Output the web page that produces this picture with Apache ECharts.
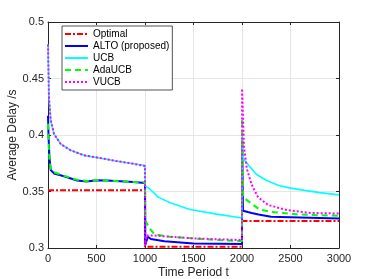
<!DOCTYPE html>
<html>
<head>
<meta charset="utf-8">
<script src="https://cdn.jsdelivr.net/npm/echarts@6/dist/echarts.min.js"></script>
<style>
html,body{margin:0;padding:0;background:#fff;}
#c{width:374px;height:279px;}
</style>
</head>
<body>
<div id="c"></div>
<script>
// ---- data (time t, average delay in s) ----
const seriesNames = ['Optimal', 'ALTO (proposed)', 'UCB', 'AdaUCB', 'VUCB'];
const xTicks = [0, 500, 1000, 1500, 2000, 2500, 3000];
const yTicks = [0.3, 0.35, 0.4, 0.45, 0.5];

const optimal = [[0,0.351],[1000,0.351],[1000,0.301],[2000,0.301],[2000,0.324],[3000,0.324]];

const alto = [[0,0.417],[5,0.400],[15,0.380],[28,0.369],[62,0.366],[165,0.3635],[300,0.3597],[400,0.3588],[500,0.3600],[600,0.3598],[700,0.3594],[880,0.3585],[1000,0.3576],
  [1003,0.303],[1030,0.310],[1060,0.308],[1200,0.306],[1500,0.304],[2000,0.3035],
  [2002,0.395],[2010,0.333],[2030,0.332],[2060,0.3318],[2100,0.331],[2170,0.3297],[2300,0.3276],[2600,0.327],[3000,0.3262]];

const ucb = [[0,0.480],[10,0.433],[28,0.413],[62,0.401],[131,0.392],[234,0.3864],[371,0.382],[577,0.379],[700,0.377],[850,0.375],[1000,0.373],
  [1002,0.355],[1052,0.352],[1137,0.345],[1258,0.340],[1464,0.334],[1739,0.330],[2000,0.3265],
  [2002,0.400],[2010,0.380],[2028,0.3776],[2080,0.372],[2150,0.365],[2250,0.360],[2371,0.3556],[2500,0.353],[2646,0.351],[2800,0.349],[3000,0.347]];

const adaucb = [[0,0.410],[5,0.395],[15,0.378],[30,0.370],[62,0.367],[165,0.364],[300,0.3603],[400,0.3592],[500,0.3602],[600,0.3598],[800,0.3588],[1000,0.358],
  [1003,0.325],[1010,0.323],[1050,0.317],[1100,0.312],[1140,0.3115],[1250,0.310],[1500,0.3085],[1750,0.307],[2000,0.306],
  [2002,0.415],[2012,0.346],[2028,0.3438],[2096,0.3394],[2182,0.334],[2302,0.332],[2577,0.3297],[2800,0.329],[3000,0.3285]];

const vucb = [[0,0.480],[10,0.433],[28,0.413],[62,0.401],[131,0.392],[234,0.3864],[371,0.382],[577,0.379],[700,0.377],[850,0.375],[1000,0.3725],
  [1003,0.302],[1015,0.311],[1100,0.311],[1500,0.3085],[2000,0.307],
  [2001,0.441],[2020,0.390],[2050,0.370],[2100,0.356],[2165,0.345],[2270,0.338],[2470,0.3335],[2710,0.331],[3000,0.3305]];

const seriesData = [optimal, alto, ucb, adaucb, vucb];
const colors = ['#ff0000', '#0000ff', '#00ffff', '#00ff00', '#ff00ff'];
const widths = [2, 2, 1.6, 2, 2];
const dashes = [[6,2,2,2], 'solid', 'solid', [6,4], [2,2]];

const font = "'Liberation Sans', Arial, Helvetica, sans-serif";
const txt = '#262626';

const chart = echarts.init(document.getElementById('c'), null, {renderer: 'canvas'});
const option = {
  animation: false,
  backgroundColor: '#ffffff',
  textStyle: {fontFamily: font},
  grid: {left: 48, right: 35, top: 22, bottom: 31, containLabel: false, outerBoundsMode: 'none'},
  legend: {
    show: true,
    orient: 'vertical',
    left: 62, top: 26,
    padding: [2, 3, 2, 2],
    itemGap: 0,
    itemWidth: 23,
    itemHeight: 12,
    backgroundColor: '#ffffff',
    borderColor: '#262626',
    borderWidth: 0.8,
    borderRadius: 0,
    itemStyle: {opacity: 0, color: 'rgba(0,0,0,0)', borderWidth: 0},
    textStyle: {fontFamily: font, fontSize: 10, color: '#000', lineHeight: 12},
    data: seriesNames
  },
  xAxis: [{
    type: 'value', min: xTicks[0], max: xTicks[xTicks.length-1], interval: 500,
    name: 'Time Period t', nameLocation: 'middle', nameGap: 19, nameMoveOverlap: false,
    nameTextStyle: {fontFamily: font, fontSize: 12, color: txt},
    axisLine: {show: true, lineStyle: {color: '#262626', width: 1}},
    axisTick: {show: true, inside: true, length: 3, lineStyle: {color: '#262626'}},
    axisLabel: {fontFamily: font, fontSize: 11, color: txt, margin: 5, formatter: v => String(v)},
    splitLine: {show: true, lineStyle: {color: '#e6e6e6', width: 1}}
  }, {
    type: 'value', position: 'top', min: xTicks[0], max: xTicks[xTicks.length-1], interval: 500,
    axisLine: {show: true, onZero: false, lineStyle: {color: '#262626', width: 1}},
    axisTick: {show: true, inside: true, length: 3, lineStyle: {color: '#262626'}},
    axisLabel: {show: false}, splitLine: {show: false}
  }],
  yAxis: [{
    type: 'value', min: yTicks[0], max: yTicks[yTicks.length-1], interval: 0.05,
    name: 'Average Delay /s', nameLocation: 'middle', nameGap: 29, nameMoveOverlap: false,
    nameTextStyle: {fontFamily: font, fontSize: 12, color: txt},
    axisLine: {show: true, lineStyle: {color: '#262626', width: 1}},
    axisTick: {show: true, inside: true, length: 3, lineStyle: {color: '#262626'}},
    axisLabel: {fontFamily: font, fontSize: 11, color: txt, margin: 4},
    splitLine: {show: true, lineStyle: {color: '#e6e6e6', width: 1}}
  }, {
    type: 'value', position: 'right', min: yTicks[0], max: yTicks[yTicks.length-1], interval: 0.05,
    axisLine: {show: true, onZero: false, lineStyle: {color: '#262626', width: 1}},
    axisTick: {show: true, inside: true, length: 3, lineStyle: {color: '#262626'}},
    axisLabel: {show: false}, splitLine: {show: false}
  }],
  series: seriesNames.map((n, i) => ({
    name: n,
    type: 'line',
    data: seriesData[i],
    symbol: 'none',
    showSymbol: false,
    smooth: false,
    color: colors[i],
    lineStyle: {color: colors[i], width: widths[i], type: dashes[i]},
    itemStyle: {color: colors[i]},
    emphasis: {disabled: true}
  }))
};
chart.setOption(option);
</script>
</body>
</html>
